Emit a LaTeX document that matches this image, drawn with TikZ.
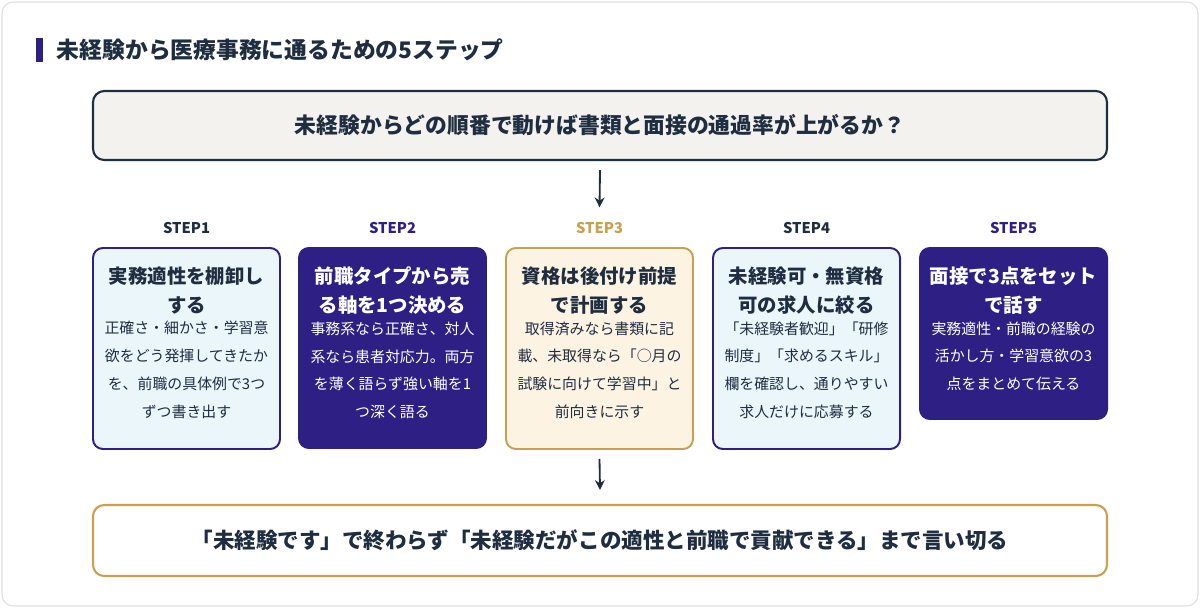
\documentclass[tikz,border=0pt]{standalone}
\usepackage{fontspec}
\setmainfont{Noto Sans CJK JP}
\usepackage{xcolor}
\definecolor{navy}{HTML}{1E2D40}
\definecolor{deeppurple}{HTML}{2E1F85}
\definecolor{gold}{HTML}{C9A050}
\definecolor{paleblue}{HTML}{EBF6FB}
\definecolor{palecream}{HTML}{FDF3E3}
\definecolor{palegray}{HTML}{F3F2EE}
\usetikzlibrary{arrows.meta,positioning}

\begin{document}
\begin{tikzpicture}[x=0.025cm,y=-0.025cm,
    box/.style={draw,rounded corners=7pt,line width=1.4pt,anchor=north,minimum width=0.025cm*187},
    lightbox/.style={box,draw=deeppurple,fill=paleblue},
    darkbox/.style={box,draw=deeppurple,fill=deeppurple},
    goldbox/.style={box,draw=gold,fill=palecream},
    steplbl/.style={font=\bfseries\fontsize{10.5}{12}\selectfont,text=navy},
    head/.style={font=\bfseries\fontsize{13.8}{20.5}\selectfont,align=center,anchor=north,text=navy},
    body/.style={font=\fontsize{10.6}{19.8}\selectfont,align=center,anchor=north,text=navy},
    flow/.style={-{Stealth[length=7pt,width=7pt]},line width=1.3pt,draw=navy}]
  % Frame
  \useasboundingbox (0,0) rectangle (1200,608);
  \draw[rounded corners=8pt,draw=black!12,fill=white,line width=0.8pt] (2,2) rectangle (1198,606);
  % Title
  \fill[deeppurple] (36,38) rectangle (43,62);
  \node[anchor=west,text=navy,font=\bfseries\fontsize{16.2}{18}\selectfont] (title) at (52,50) {未経験から医療事務に通るための5ステップ};
  % Question
  \node[draw=navy,fill=palegray,rounded corners=8pt,line width=1.5pt,minimum width=0.025cm*1014,minimum height=0.025cm*69,text=navy,font=\bfseries\fontsize{15.5}{18}\selectfont] (q) at (600,125.5) {未経験からどの順番で動けば書類と面接の通過率が上がるか？};
  % Steps
  \node[lightbox,minimum height=0.025cm*201] (b1) at (186.5,247) {};
  \node[darkbox,minimum height=0.025cm*200] (b2) at (392.5,247) {};
  \node[goldbox,minimum height=0.025cm*201] (b3) at (599.5,247) {};
  \node[lightbox,minimum height=0.025cm*201] (b4) at (806.5,247) {};
  \node[darkbox,minimum height=0.025cm*171] (b5) at (1013.5,247) {};
  \node[steplbl] (l1) at (186.5,228) {STEP1};
  \node[steplbl,text=deeppurple] (l2) at (392.5,228) {STEP2};
  \node[steplbl,text=gold] (l3) at (599.5,228) {STEP3};
  \node[steplbl] (l4) at (806.5,228) {STEP4};
  \node[steplbl,text=deeppurple] (l5) at (1013.5,228) {STEP5};
  % Step texts
  \node[head] (h1) at (186.5,262) {実務適性を棚卸し\\する};
  \node[body,below=-2pt of h1] {正確さ・細かさ・学習意\\欲をどう発揮してきたか\\を、前職の具体例で3つ\\ずつ書き出す};
  \node[head,text=white] (h2) at (392.5,262) {前職タイプから売\\る軸を1つ決める};
  \node[body,text=white,below=-2pt of h2] {事務系なら正確さ、対人\\系なら患者対応力。両方\\を薄く語らず強い軸を1\\つ深く語る};
  \node[head] (h3) at (599.5,262) {資格は後付け前提\\で計画する};
  \node[body,below=-2pt of h3] {取得済みなら書類に記\\載、未取得なら「○月の\\試験に向けて学習中」と\\前向きに示す};
  \node[head] (h4) at (806.5,262) {未経験可・無資格\\可の求人に絞る};
  \node[body,below=-2pt of h4] {「未経験者歓迎」「研修\\制度」「求めるスキル」\\欄を確認し、通りやすい\\求人だけに応募する};
  \node[head,text=white] (h5) at (1013.5,262) {面接で3点をセット\\で話す};
  \node[body,text=white,below=-2pt of h5] {実務適性・前職の経験の\\活かし方・学習意欲の3\\点をまとめて伝える};
  % Conclusion
  \node[draw=gold,fill=white,rounded corners=8pt,line width=1.5pt,minimum width=0.025cm*1014,minimum height=0.025cm*71,text=navy,font=\bfseries\fontsize{15.3}{18}\selectfont] (c) at (600,540.5) {「未経験です」で終わらず「未経験だがこの適性と前職で貢献できる」まで言い切る};
  % Arrows
  \draw[flow] ([yshift=-0.025cm*9]q.south) -- ([yshift=0.025cm*10]l3.north);
  \draw[flow] ([yshift=-0.025cm*9]b3.south) -- ([yshift=0.025cm*14]c.north);
\end{tikzpicture}
\end{document}
